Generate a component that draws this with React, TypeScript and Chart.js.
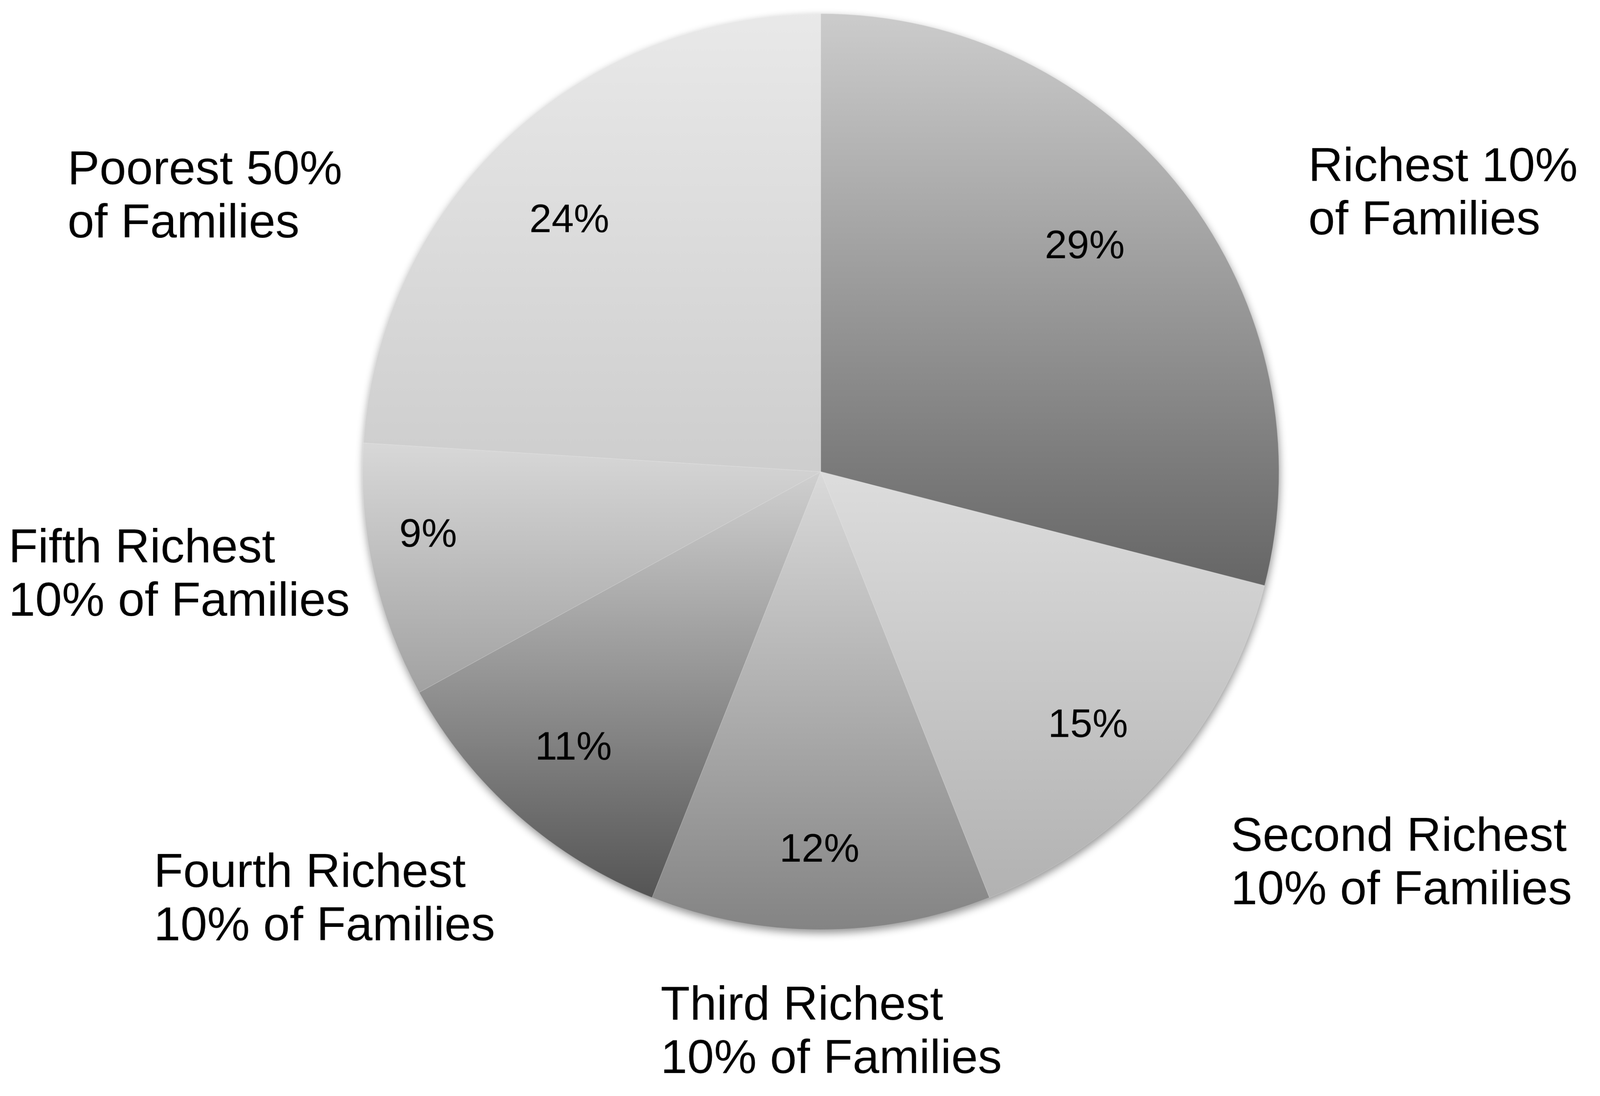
import React, { useEffect, useRef } from "react";
import { Chart, registerables } from "chart.js";

Chart.register(...registerables);

// ---- data ----
const CATEGORY_LINES: string[][] = [
  ["Richest 10%", "of Families"],
  ["Second Richest", "10% of Families"],
  ["Third Richest", "10% of Families"],
  ["Fourth Richest", "10% of Families"],
  ["Fifth Richest", "10% of Families"],
  ["Poorest 50%", "of Families"],
];
const SHARES: number[] = [29, 15, 12, 11, 9, 24];
const SHARE_LABELS: string[] = ["29%", "15%", "12%", "11%", "9%", "24%"];

// ---- styles ----
const GRADIENT_TOP = ["#cccccc", "#dddddd", "#dadada", "#d0d0d0", "#d8d8d8", "#e9e9e9"];
const GRADIENT_BOTTOM = ["#666666", "#b2b2b2", "#848484", "#555555", "#a2a2a2", "#cecece"];
const FONT = '"Liberation Sans", Arial, Helvetica, sans-serif';
const OUTER_SIZE = 125;
const OUTER_LINE_H = 139;
const INNER_SIZE = 104;

// drawing surface (the picture size)
const SURFACE_W = 4169;
const SURFACE_H = 2807;

// ---- label layout (relative to pie geometry) ----
// inner: [angle shift from slice middle (deg), radius factor]
const INNER_LABEL_POS: number[][] = [
  [-3.0, 0.761],
  [1.8, 0.8],
  [0.2, 0.82],
  [0.7, 0.805],
  [3.8, 0.867],
  [-1.5, 0.78],
];
// outer: text-block centre offset from pie centre, in radius units
const OUTER_LABEL_POS: number[][] = [
  [1.358, -0.614],
  [1.267, 0.849],
  [0.023, 1.217],
  [-1.083, 0.927],
  [-1.4, 0.219],
  [-1.344, -0.607],
];

function sliceGradient(c: any) {
  const chart = c.chart;
  const area = chart.chartArea;
  const i = c.dataIndex;
  if (!area || i === undefined || i === null) return GRADIENT_BOTTOM[i || 0];
  const cx = (area.left + area.right) / 2;
  const cy = (area.top + area.bottom) / 2;
  const r = Math.min(area.width, area.height) / 2;
  const data: number[] = c.dataset.data;
  const total = data.reduce((a, b) => a + b, 0);
  let before = 0;
  for (let j = 0; j < i; j++) before += data[j];
  const a0 = -Math.PI / 2 + (before / total) * Math.PI * 2;
  const a1 = a0 + (data[i] / total) * Math.PI * 2;
  const ys = [cy, cy + r * Math.sin(a0), cy + r * Math.sin(a1)];
  for (let k = -1; k <= 2; k++) {
    const tTop = -Math.PI / 2 + 2 * Math.PI * k;
    const tBot = Math.PI / 2 + 2 * Math.PI * k;
    if (tTop >= a0 - 1e-9 && tTop <= a1 + 1e-9) ys.push(cy - r);
    if (tBot >= a0 - 1e-9 && tBot <= a1 + 1e-9) ys.push(cy + r);
  }
  const top = Math.min(...ys);
  const bottom = Math.max(...ys);
  const g = chart.ctx.createLinearGradient(0, top, 0, bottom);
  g.addColorStop(0, GRADIENT_TOP[i]);
  g.addColorStop(1, GRADIENT_BOTTOM[i]);
  return g;
}

const shadowPlugin = {
  id: "pieShadow",
  beforeDatasetsDraw(chart: any) {
    const arc = chart.getDatasetMeta(0).data[0];
    if (!arc) return;
    const { x, y, outerRadius } = arc.getProps(["x", "y", "outerRadius"], true);
    const ctx = chart.ctx;
    ctx.save();
    ctx.shadowColor = "rgba(0,0,0,0.45)";
    ctx.shadowBlur = 22;
    ctx.shadowOffsetX = 2;
    ctx.shadowOffsetY = 9;
    ctx.fillStyle = "#bbbbbb";
    ctx.beginPath();
    ctx.arc(x, y, outerRadius - 1, 0, Math.PI * 2);
    ctx.fill();
    ctx.restore();
  },
};

const labelPlugin = {
  id: "pieLabels",
  afterDatasetsDraw(chart: any) {
    const ctx = chart.ctx;
    const arcs = chart.getDatasetMeta(0).data;
    ctx.save();
    ctx.fillStyle = "#000000";
    arcs.forEach((arc: any, i: number) => {
      const p = arc.getProps(["x", "y", "startAngle", "endAngle", "outerRadius"], true);
      const R = p.outerRadius;
      // percentage inside the slice
      const mid = (p.startAngle + p.endAngle) / 2 + (INNER_LABEL_POS[i][0] * Math.PI) / 180;
      const ir = R * INNER_LABEL_POS[i][1];
      const ix = p.x + Math.cos(mid) * ir;
      const iy = p.y + Math.sin(mid) * ir;
      ctx.font = `${INNER_SIZE}px ${FONT}`;
      ctx.textAlign = "center";
      ctx.textBaseline = "alphabetic";
      ctx.fillText(SHARE_LABELS[i], ix, iy + (INNER_SIZE * 0.716) / 2);
      // category outside the pie
      ctx.font = `${OUTER_SIZE}px ${FONT}`;
      ctx.textAlign = "left";
      const lines = CATEGORY_LINES[i];
      const maxW = Math.max(...lines.map((l) => ctx.measureText(l).width));
      const bx = p.x + OUTER_LABEL_POS[i][0] * R;
      const by = p.y + OUTER_LABEL_POS[i][1] * R;
      const left = bx - maxW / 2;
      const cap = OUTER_SIZE * 0.716;
      const firstCenter = by - ((lines.length - 1) * OUTER_LINE_H) / 2;
      lines.forEach((l, k) => {
        ctx.fillText(l, left, firstCenter + k * OUTER_LINE_H + cap / 2);
      });
    });
    ctx.restore();
  },
};

export default function App() {
  const canvasRef = useRef<HTMLCanvasElement | null>(null);

  useEffect(() => {
    document.body.style.margin = "0";
    document.body.style.background = "#ffffff";
    const canvas = canvasRef.current;
    if (!canvas) return;
    const chart = new Chart(canvas, {
      type: "pie",
      data: {
        labels: CATEGORY_LINES.map((l) => l.join(" ")),
        datasets: [
          {
            data: SHARES,
            backgroundColor: sliceGradient as any,
            borderColor: "rgba(255,255,255,0.3)",
            borderWidth: 1,
            hoverBorderWidth: 1,
            hoverOffset: 0,
          },
        ],
      },
      options: {
        animation: false,
        responsive: false,
        devicePixelRatio: 1,
        events: [],
        layout: { padding: { left: 944, top: 35, right: 836, bottom: 383 } },
        plugins: {
          legend: { display: false },
          tooltip: { enabled: false },
          title: { display: false },
        },
      },
      plugins: [shadowPlugin, labelPlugin],
    });
    return () => chart.destroy();
  }, []);

  return (
    <div style={{ position: "fixed", left: 0, top: 0, width: "100vw", height: "100vh", background: "#fff" }}>
      <canvas
        ref={canvasRef}
        width={SURFACE_W}
        height={SURFACE_H}
        style={{ display: "block", width: "100vw", height: `${(SURFACE_H / SURFACE_W) * 100}vw` }}
      />
    </div>
  );
}
